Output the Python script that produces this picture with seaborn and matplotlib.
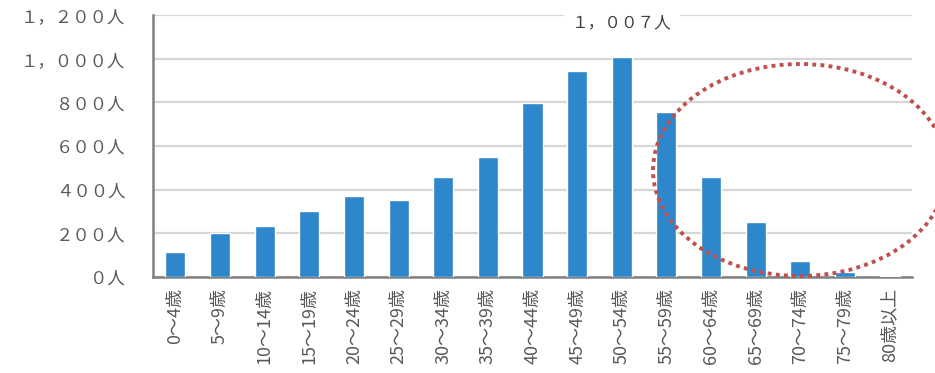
import matplotlib
matplotlib.use("Agg")
import matplotlib.pyplot as plt
import seaborn as sns
import pandas as pd
from matplotlib.patches import Ellipse

categories = ["0～4歳", "5～9歳", "10～14歳", "15～19歳", "20～24歳", "25～29歳",
              "30～34歳", "35～39歳", "40～44歳", "45～49歳", "50～54歳", "55～59歳",
              "60～64歳", "65～69歳", "70～74歳", "75～79歳", "80歳以上"]
values = [113, 200, 234, 303, 372, 353, 459, 550, 798, 945, 1007, 755, 459, 251, 72, 23, 3]
y_ticks = [0, 200, 400, 600, 800, 1000, 1200]
y_tick_labels = ["０人", "２００人", "４００人", "６００人", "８００人", "１，０００人", "１，２００人"]
peak_label = "１，００７人"

sns.set_theme(style="white")
plt.rcParams['font.family'] = ['Noto Sans CJK JP', 'DejaVu Sans']

fig = plt.figure(figsize=(9.35, 3.73), dpi=100)
ax = fig.add_axes([153/935, 1-277/373, (912-153)/935, (277-15)/373])

df = pd.DataFrame({"cat": categories, "val": values})
sns.barplot(data=df, x="cat", y="val", color="#2e86cb", width=0.45, ax=ax,
            saturation=1, zorder=3)

ax.set_ylim(0, 1200)
ax.set_xlim(-0.5, len(categories) - 0.5)
ax.set_yticks(y_ticks)
ax.set_yticklabels(y_tick_labels)
ax.set_xlabel("")
ax.set_ylabel("")
ax.yaxis.grid(True, color="#d6d6d6", linewidth=1.6, zorder=0)
ax.set_axisbelow(True)

for s in ["top", "right"]:
    ax.spines[s].set_visible(False)
ax.spines["left"].set_color("#808080")
ax.spines["left"].set_linewidth(1.8)
ax.spines["bottom"].set_color("#808080")
ax.spines["bottom"].set_linewidth(1.8)

ax.tick_params(axis="y", length=0, pad=20, labelsize=12.5, labelcolor="#595959")
ax.tick_params(axis="x", length=0, pad=8, labelsize=13, labelcolor="#595959",
               labelrotation=90)

idx = values.index(max(values))
ax.text(idx, 1165, peak_label, ha="center", va="center", fontsize=12,
        color="#404040", zorder=5,
        bbox=dict(boxstyle="square,pad=0.5", facecolor="white", edgecolor="none"))

ell = Ellipse((800/935, 1-170/373), width=294/935, height=212/373,
              transform=fig.transFigure, fill=False, edgecolor="#c0504d",
              linewidth=2.8, linestyle=(0, (1, 1.1)))
ell.set_capstyle("butt")
fig.add_artist(ell)

fig.savefig("out.png", dpi=100)
